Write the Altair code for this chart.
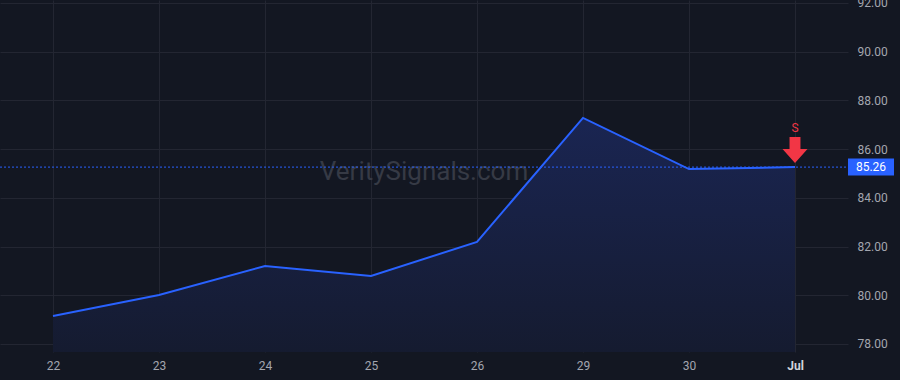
import altair as alt
import pandas as pd

# ---- data ----
day_labels = ["22", "23", "24", "25", "26", "29", "30", "Jul"]
closes = [79.15, 80.01, 81.20, 80.79, 82.19, 87.28, 85.18, 85.26]
last_price = 85.26
signal_text = "S"
y_ticks = [78, 80, 82, 84, 86, 88, 90, 92]
watermark = "VeritySignals.com"

BG = "#131722"
BLUE = "#2962ff"
RED = "#f23645"
GRID = "#232632"
TXT = "#a3a6af"
FONT = "Roboto"

df = pd.DataFrame({"i": list(range(len(closes))), "day": day_labels, "close": closes})
last_df = df.iloc[[-1]].copy()

y_min, y_max = 77.67, 92.12
label_arr = "[" + ",".join("'%s'" % s for s in day_labels) + "]"

x_enc = alt.X(
    "i:Q",
    scale=alt.Scale(domain=[-0.5, len(closes) - 0.5], nice=False, zero=False),
    axis=alt.Axis(
        values=list(range(len(closes))),
        labelExpr=label_arr + "[datum.value]",
        title=None,
        domain=False,
        ticks=False,
        grid=True,
        gridColor=GRID,
        labelPadding=8,
        labelFontSize=12,
        labelFont=FONT,
        labelColor={"condition": {"test": "datum.value == %d" % (len(closes) - 1), "value": "#d1d4dc"}, "value": TXT},
        labelFontWeight={"condition": {"test": "datum.value == %d" % (len(closes) - 1), "value": "bold"}, "value": "normal"},
    ),
)
y_scale = alt.Scale(domain=[y_min, y_max], nice=False, zero=False)
y_enc = alt.Y(
    "close:Q",
    scale=y_scale,
    axis=alt.Axis(
        orient="right",
        values=y_ticks,
        format=".2f",
        title=None,
        domain=False,
        ticks=False,
        grid=True,
        gridColor=GRID,
        labelPadding=9,
        labelFontSize=12,
        labelFont=FONT,
        labelColor=TXT,
        labelAlign="left",
    ),
)

base = alt.Chart(df)

area = base.mark_area(
    color=alt.Gradient(
        gradient="linear",
        stops=[alt.GradientStop(color="#1a2552", offset=0), alt.GradientStop(color="#151b30", offset=1)],
        x1=0, x2=0, y1=0, y2=1,
    ),
    line=False,
).encode(x=x_enc, y=y_enc, y2=alt.datum(y_min))

line = base.mark_line(color=BLUE, strokeWidth=2).encode(x="i:Q", y="close:Q")

wm = alt.Chart(pd.DataFrame({"t": [watermark]})).mark_text(
    font=FONT, fontSize=26, color="#363a45", align="center", baseline="middle"
).encode(x=alt.value(424), y=alt.value(172), text="t:N")

price_df = pd.DataFrame({"p": [last_price], "lbl": ["%.2f" % last_price]})
price_rule = alt.Chart(price_df).mark_rule(color=BLUE, strokeDash=[2, 2], strokeWidth=1).encode(
    y=alt.Y("p:Q", scale=y_scale), x=alt.value(0), x2=alt.value(848)
)
price_box = alt.Chart(price_df).mark_point(
    shape="M -1 -0.37 L 1 -0.37 L 1 0.37 L -1 0.37 Z", filled=True, color=BLUE, opacity=1, size=46 * 46
).encode(y=alt.Y("p:Q", scale=y_scale), x=alt.value(871))
price_txt = alt.Chart(price_df).mark_text(
    font=FONT, fontSize=12, color="#ffffff", align="center", baseline="middle"
).encode(y=alt.Y("p:Q", scale=y_scale), x=alt.value(871), text="lbl:N")

arrow = alt.Chart(last_df).mark_point(
    shape="M -0.42 -1 L 0.42 -1 L 0.42 -0.08 L 0.96 -0.08 L 0 1 L -0.96 -0.08 L -0.42 -0.08 Z",
    filled=True, color=RED, opacity=1, size=26 * 26, yOffset=-17,
).encode(x="i:Q", y="close:Q")
sig = alt.Chart(last_df).mark_text(
    text=signal_text, font=FONT, fontSize=12, color=RED, align="center", baseline="middle", dy=-39
).encode(x="i:Q", y="close:Q")

chart = alt.layer(area, line, wm, price_rule, price_box, price_txt, arrow, sig).properties(
    width=848, height=352,
    background=BG,
    autosize=alt.AutoSizeParams(type="none"),
    padding={"left": 0, "top": 0, "right": 52, "bottom": 28},
).configure_view(stroke=None, fill=BG)

chart.save("out.html", embed_options={"renderer": "svg", "actions": False})
